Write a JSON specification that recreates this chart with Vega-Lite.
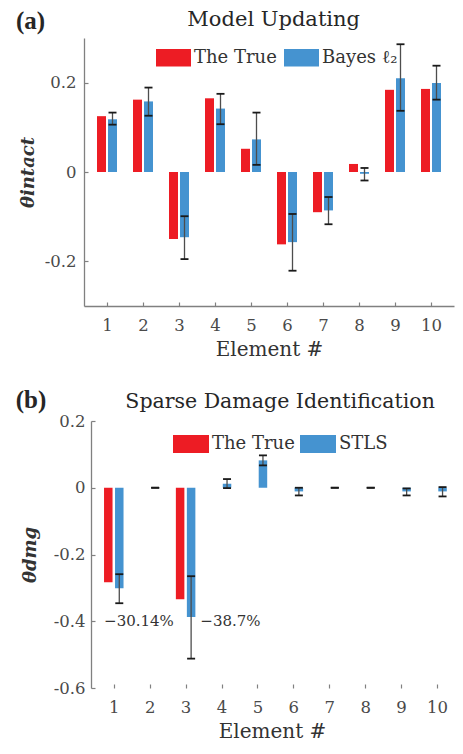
{
  "$schema": "https://vega.github.io/schema/vega-lite/v6.json",
  "padding": {"left": 15, "top": 8, "right": 0, "bottom": 0},
  "spacing": 27,
  "resolve": {"scale": {"color": "independent"}, "legend": {"color": "independent"}},
  "datasets": {
    "a": [
      {"element": 1, "series": "The True", "value": 0.125},
      {"element": 2, "series": "The True", "value": 0.162},
      {"element": 3, "series": "The True", "value": -0.150},
      {"element": 4, "series": "The True", "value": 0.165},
      {"element": 5, "series": "The True", "value": 0.052},
      {"element": 6, "series": "The True", "value": -0.162},
      {"element": 7, "series": "The True", "value": -0.090},
      {"element": 8, "series": "The True", "value": 0.018},
      {"element": 9, "series": "The True", "value": 0.184},
      {"element": 10, "series": "The True", "value": 0.186},
      {"element": 1, "series": "Bayes ℓ₂", "value": 0.118, "lo": 0.106, "hi": 0.133},
      {"element": 2, "series": "Bayes ℓ₂", "value": 0.158, "lo": 0.126, "hi": 0.189},
      {"element": 3, "series": "Bayes ℓ₂", "value": -0.146, "lo": -0.195, "hi": -0.099},
      {"element": 4, "series": "Bayes ℓ₂", "value": 0.142, "lo": 0.107, "hi": 0.175},
      {"element": 5, "series": "Bayes ℓ₂", "value": 0.073, "lo": 0.016, "hi": 0.133},
      {"element": 6, "series": "Bayes ℓ₂", "value": -0.157, "lo": -0.221, "hi": -0.094},
      {"element": 7, "series": "Bayes ℓ₂", "value": -0.086, "lo": -0.117, "hi": -0.056},
      {"element": 8, "series": "Bayes ℓ₂", "value": -0.004, "lo": -0.019, "hi": 0.009},
      {"element": 9, "series": "Bayes ℓ₂", "value": 0.210, "lo": 0.137, "hi": 0.286},
      {"element": 10, "series": "Bayes ℓ₂", "value": 0.199, "lo": 0.162, "hi": 0.238}
    ],
    "b": [
      {"element": 1, "series": "The True", "value": -0.283},
      {"element": 2, "series": "The True", "value": 0},
      {"element": 3, "series": "The True", "value": -0.334},
      {"element": 4, "series": "The True", "value": 0},
      {"element": 5, "series": "The True", "value": 0},
      {"element": 6, "series": "The True", "value": 0},
      {"element": 7, "series": "The True", "value": 0},
      {"element": 8, "series": "The True", "value": 0},
      {"element": 9, "series": "The True", "value": 0},
      {"element": 10, "series": "The True", "value": 0},
      {"element": 1, "series": "STLS", "value": -0.3014, "lo": -0.346, "hi": -0.259},
      {"element": 2, "series": "STLS", "value": 0, "lo": 0, "hi": 0},
      {"element": 3, "series": "STLS", "value": -0.387, "lo": -0.512, "hi": -0.265},
      {"element": 4, "series": "STLS", "value": 0.012, "lo": -0.001, "hi": 0.026},
      {"element": 5, "series": "STLS", "value": 0.082, "lo": 0.067, "hi": 0.097},
      {"element": 6, "series": "STLS", "value": -0.011, "lo": -0.023, "hi": 0.0},
      {"element": 7, "series": "STLS", "value": 0, "lo": 0, "hi": 0},
      {"element": 8, "series": "STLS", "value": 0, "lo": 0, "hi": 0},
      {"element": 9, "series": "STLS", "value": -0.011, "lo": -0.023, "hi": -0.002},
      {"element": 10, "series": "STLS", "value": -0.011, "lo": -0.026, "hi": 0.002}
    ],
    "panelA": [{"pos": -1.53, "value": 0.3202, "label": "(a)"}],
    "titleA": [{"pos": 5.63, "value": 0.327, "label": "Model Updating"}],
    "panelB": [{"pos": -1.73, "value": 0.239, "label": "(b)"}],
    "titleB": [{"pos": 5.63, "value": 0.239, "label": "Sparse Damage Identification"}],
    "pct": [
      {"pos": 0.73, "value": -0.4, "label": "−30.14%"},
      {"pos": 3.41, "value": -0.4, "label": "−38.7%"}
    ]
  },
  "config": {
    "view": {"stroke": null},
    "font": "DejaVu Serif",
    "axis": {
      "grid": false,
      "domainColor": "#808080",
      "domainWidth": 1.3,
      "tickColor": "#808080",
      "tickWidth": 1.2,
      "tickSize": -4,
      "labelFont": "DejaVu Serif",
      "labelFontSize": 16.5,
      "labelColor": "#4a4a4a",
      "titleFont": "DejaVu Serif",
      "titleColor": "#333333"
    }
  },
  "vconcat": [
    {
      "width": 370,
      "height": 268,
      "data": {"name": "a"},
      "encoding": {
        "x": {"field": "element", "type": "quantitative", "scale": {"domain": [0.5, 10.5], "nice": false, "zero": false},
          "axis": {"values": [1, 2, 3, 4, 5, 6, 7, 8, 9, 10], "format": "d", "title": "Element #", "titleFontSize": 20, "titleFontWeight": "normal", "labelPadding": 15, "titlePadding": 6}}
      },
      "layer": [
        {
          "transform": [{"filter": "datum.series == 'The True'"}],
          "mark": {"type": "bar", "width": 9, "xOffset": -5.5},
          "encoding": {
            "y": {"field": "value", "type": "quantitative", "stack": null, "scale": {"domain": [-0.3, 0.3], "nice": false},
              "axis": {"values": [-0.2, 0, 0.2], "labelExpr": "datum.value == 0 ? '0' : (datum.value < 0 ? '-' : '') + format(abs(datum.value), '.1f')", "title": "θintact", "titleFontStyle": "italic", "titleFontWeight": "bold", "titleFontSize": 18, "labelPadding": 12, "titlePadding": 7}},
            "color": {"field": "series", "type": "nominal", "scale": {"domain": ["The True", "Bayes ℓ₂"], "range": ["#ED1C24", "#4593D0"]},
              "legend": {"orient": "none", "legendX": 72, "legendY": 2, "direction": "horizontal", "title": null, "symbolType": "M-1,-0.5H1V0.5H-1Z", "symbolSize": 1225, "symbolStrokeWidth": 0, "labelFont": "DejaVu Serif", "labelFontSize": 18, "labelColor": "#333333", "labelOffset": 3, "columnPadding": 7, "padding": 0}}
          }
        },
        {
          "transform": [{"filter": "datum.series != 'The True'"}],
          "mark": {"type": "bar", "width": 9, "xOffset": 5.5},
          "encoding": {
            "y": {"field": "value", "type": "quantitative", "stack": null},
            "color": {"field": "series", "type": "nominal"}
          }
        },
        {
          "data": {"values": [{}]},
          "mark": {"type": "rule", "color": "#808080", "strokeWidth": 1.3},
          "encoding": {"y": {"datum": 0, "type": "quantitative"}}
        },
        {
          "transform": [{"filter": "datum.series != 'The True'"}],
          "mark": {"type": "rule", "xOffset": 5.5, "color": "#4d4d4d", "strokeWidth": 1.3},
          "encoding": {"y": {"field": "lo", "type": "quantitative"}, "y2": {"field": "hi"}}
        },
        {
          "transform": [{"filter": "datum.series != 'The True'"}],
          "mark": {"type": "tick", "orient": "horizontal", "xOffset": 5.5, "size": 8, "thickness": 1.8, "color": "#1a1a1a", "opacity": 1},
          "encoding": {"y": {"field": "lo", "type": "quantitative"}}
        },
        {
          "transform": [{"filter": "datum.series != 'The True'"}],
          "mark": {"type": "tick", "orient": "horizontal", "xOffset": 5.5, "size": 8, "thickness": 1.8, "color": "#1a1a1a", "opacity": 1},
          "encoding": {"y": {"field": "hi", "type": "quantitative"}}
        },
        {
          "data": {"name": "panelA"},
          "mark": {"type": "text", "align": "left", "baseline": "alphabetic", "font": "Liberation Serif", "fontSize": 25, "fontWeight": "bold", "color": "#262626"},
          "encoding": {
            "x": {"field": "pos", "type": "quantitative"},
            "y": {"field": "value", "type": "quantitative"},
            "text": {"field": "label"}
          }
        },
        {
          "data": {"name": "titleA"},
          "mark": {"type": "text", "align": "center", "baseline": "alphabetic", "font": "DejaVu Serif", "fontSize": 21, "color": "#262626"},
          "encoding": {
            "x": {"field": "pos", "type": "quantitative"},
            "y": {"field": "value", "type": "quantitative"},
            "text": {"field": "label"}
          }
        }
      ]
    },
    {
      "width": 376,
      "height": 267,
      "data": {"name": "b"},
      "encoding": {
        "x": {"field": "element", "type": "quantitative", "scale": {"domain": [0.31, 10.5], "nice": false, "zero": false},
          "axis": {"values": [1, 2, 3, 4, 5, 6, 7, 8, 9, 10], "format": "d", "domain": false, "title": "Element #", "titleFontSize": 20, "titleFontWeight": "normal", "labelPadding": 15, "titlePadding": 6}}
      },
      "layer": [
        {
          "transform": [{"filter": "datum.series == 'The True'"}],
          "mark": {"type": "bar", "width": 8.5, "xOffset": -5.5},
          "encoding": {
            "y": {"field": "value", "type": "quantitative", "stack": null, "scale": {"domain": [-0.6, 0.2], "nice": false},
              "axis": {"values": [-0.6, -0.4, -0.2, 0, 0.2], "offset": -7, "labelExpr": "datum.value == 0 ? '0' : (datum.value < 0 ? '-' : '') + format(abs(datum.value), '.1f')", "title": "θdmg", "titleFontStyle": "italic", "titleFontWeight": "bold", "titleFontSize": 18, "labelPadding": 10, "titlePadding": 14}},
            "color": {"field": "series", "type": "nominal", "scale": {"domain": ["The True", "STLS"], "range": ["#ED1C24", "#4593D0"]},
              "legend": {"orient": "none", "legendX": 89, "legendY": 5, "direction": "horizontal", "title": null, "symbolType": "M-1,-0.5H1V0.5H-1Z", "symbolSize": 1296, "symbolStrokeWidth": 0, "labelFont": "DejaVu Serif", "labelFontSize": 18, "labelColor": "#333333", "labelOffset": 3, "columnPadding": 5, "padding": 0}}
          }
        },
        {
          "transform": [{"filter": "datum.series != 'The True'"}],
          "mark": {"type": "bar", "width": 8.5, "xOffset": 5.5},
          "encoding": {
            "y": {"field": "value", "type": "quantitative", "stack": null},
            "color": {"field": "series", "type": "nominal"}
          }
        },
        {
          "data": {"values": [{}]},
          "mark": {"type": "rule", "color": "#808080", "strokeWidth": 1.3},
          "encoding": {"x": {"datum": 0.5, "type": "quantitative"}, "x2": {"datum": 10.5}, "y": {"datum": 0, "type": "quantitative"}}
        },
        {
          "data": {"values": [{}]},
          "mark": {"type": "rule", "color": "#808080", "strokeWidth": 1.3},
          "encoding": {"x": {"datum": 0.5, "type": "quantitative"}, "x2": {"datum": 10.5}, "y": {"datum": -0.6, "type": "quantitative"}}
        },
        {
          "transform": [{"filter": "datum.series != 'The True'"}],
          "mark": {"type": "rule", "xOffset": 5.5, "color": "#4d4d4d", "strokeWidth": 1.3},
          "encoding": {"y": {"field": "lo", "type": "quantitative"}, "y2": {"field": "hi"}}
        },
        {
          "transform": [{"filter": "datum.series != 'The True'"}],
          "mark": {"type": "tick", "orient": "horizontal", "xOffset": 5.5, "size": 8, "thickness": 1.8, "color": "#1a1a1a", "opacity": 1},
          "encoding": {"y": {"field": "lo", "type": "quantitative"}}
        },
        {
          "transform": [{"filter": "datum.series != 'The True'"}],
          "mark": {"type": "tick", "orient": "horizontal", "xOffset": 5.5, "size": 8, "thickness": 1.8, "color": "#1a1a1a", "opacity": 1},
          "encoding": {"y": {"field": "hi", "type": "quantitative"}}
        },
        {
          "data": {"name": "pct"},
          "mark": {"type": "text", "align": "left", "baseline": "middle", "font": "DejaVu Serif", "fontSize": 15, "color": "#333333"},
          "encoding": {
            "x": {"field": "pos", "type": "quantitative"},
            "y": {"field": "value", "type": "quantitative"},
            "text": {"field": "label"}
          }
        },
        {
          "data": {"name": "panelB"},
          "mark": {"type": "text", "align": "left", "baseline": "alphabetic", "font": "Liberation Serif", "fontSize": 25, "fontWeight": "bold", "color": "#262626"},
          "encoding": {
            "x": {"field": "pos", "type": "quantitative"},
            "y": {"field": "value", "type": "quantitative"},
            "text": {"field": "label"}
          }
        },
        {
          "data": {"name": "titleB"},
          "mark": {"type": "text", "align": "center", "baseline": "alphabetic", "font": "DejaVu Serif", "fontSize": 20.5, "color": "#262626"},
          "encoding": {
            "x": {"field": "pos", "type": "quantitative"},
            "y": {"field": "value", "type": "quantitative"},
            "text": {"field": "label"}
          }
        }
      ]
    }
  ]
}
